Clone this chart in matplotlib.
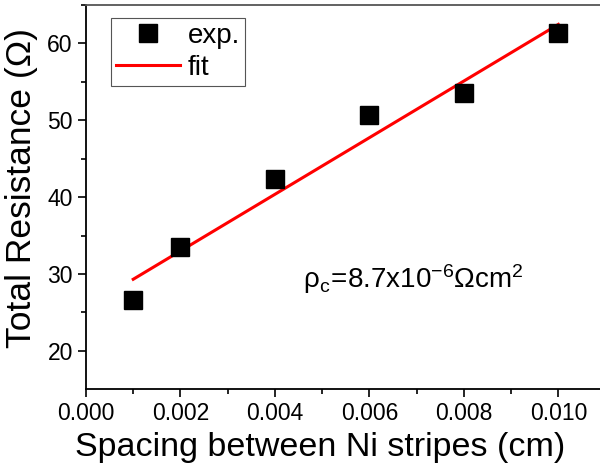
import matplotlib.pyplot as plt
import numpy as np

plt.rcParams["font.family"] = ["Liberation Sans", "DejaVu Sans"]
plt.rcParams["mathtext.fontset"] = "custom"
plt.rcParams["mathtext.rm"] = "Liberation Sans"
plt.rcParams["mathtext.it"] = "Liberation Sans:italic"

# data
spacing = [0.001, 0.002, 0.004, 0.006, 0.008, 0.010]
resistance = [26.6, 33.5, 42.3, 50.7, 53.6, 61.3]

# linear fit through the measured points
slope, intercept = np.polyfit(spacing, resistance, 1)
x_fit = np.array([spacing[0], spacing[-1]])
y_fit = slope * x_fit + intercept

fig = plt.figure(figsize=(6, 4.7), dpi=100)
ax = fig.add_axes([0.1433, 0.1717, 0.866, 0.8177])

ax.plot(spacing, resistance, "s", color="black", markersize=12.5, label="exp.", zorder=3)
ax.plot(x_fit, y_fit, color="red", linewidth=2.2, label="fit", zorder=2)

ax.set_xlim(0, 0.011)
ax.set_ylim(15, 65)
ax.set_xticks([0.000, 0.002, 0.004, 0.006, 0.008, 0.010])
ax.set_xticklabels(["0.000", "0.002", "0.004", "0.006", "0.008", "0.010"])
ax.set_xticks(np.arange(0.001, 0.011, 0.002), minor=True)
ax.set_yticks([20, 30, 40, 50, 60])
ax.set_yticks([25, 35, 45, 55, 65], minor=True)
ax.tick_params(which="major", direction="out", length=6, width=1.2, labelsize=16.5)
ax.tick_params(which="minor", direction="out", length=3.5, width=1.2)
ax.tick_params(top=False, right=False)

for side in ["left", "bottom", "top"]:
    ax.spines[side].set_linewidth(1.3)
ax.spines["top"].set_color("#555555")
ax.spines["right"].set_visible(False)

ax.set_xlabel("Spacing between Ni stripes (cm)", fontsize=24.5, labelpad=4.5)
ax.set_ylabel("Total Resistance (\u03a9)", fontsize=25.5, labelpad=7)
ax.xaxis.label.set_x(0.45)
ax.yaxis.label.set_y(0.525)

ax.text(0.0046, 28.2, r"$\mathregular{\rho_c\!=\!8.7x10^{-6}\Omega cm^2}$",
        fontsize=20, ha="left", va="baseline")

leg = ax.legend(loc="upper left", bbox_to_anchor=(0.0475, 0.966), borderaxespad=0,
                fontsize=20, fancybox=False, edgecolor="#555555", framealpha=1,
                handlelength=2.3, handletextpad=0.3, labelspacing=0.2,
                borderpad=0.18, numpoints=1)
leg.get_frame().set_linewidth(0.8)

plt.savefig("out.png", dpi=100)
